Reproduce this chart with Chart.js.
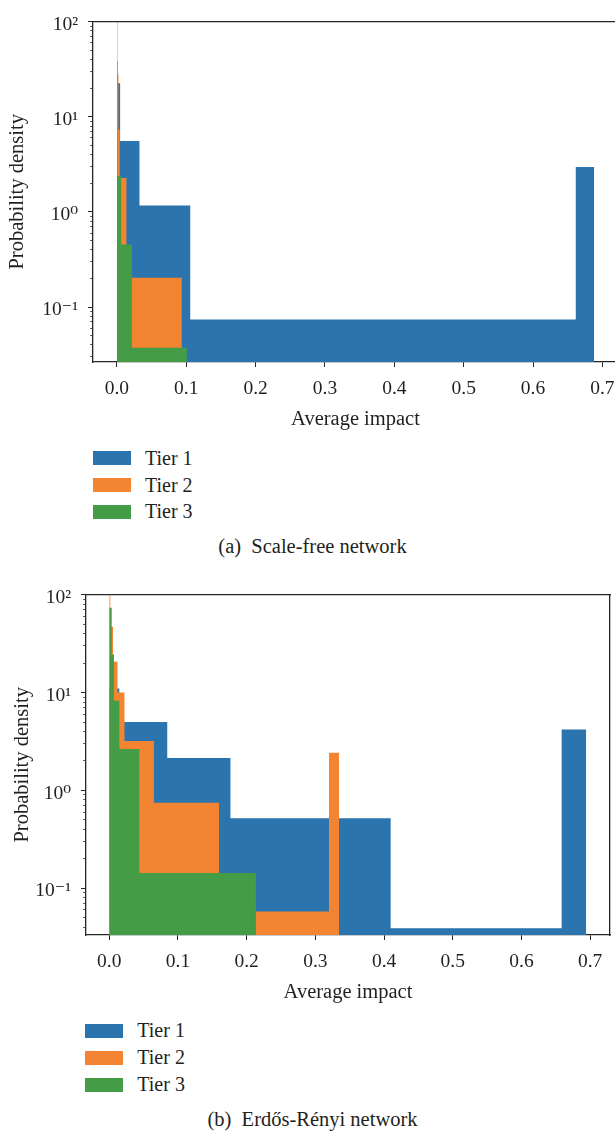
<!DOCTYPE html>
<html>
<head>
<meta charset="utf-8">
<script src="https://cdn.jsdelivr.net/npm/chart.js@4/dist/chart.umd.min.js"></script>
<style>
  html, body { margin: 0; padding: 0; background: #fff; width: 615px; height: 1134px; overflow: hidden; }
  .panel { position: absolute; left: 0; width: 615px; overflow: hidden; }
  .txt { font-family: 'Liberation Serif', 'DejaVu Serif', serif; color: #231f20; }
  .row { position: absolute; left: 0; height: 27px; width: 300px; }
  .row .box { position: absolute; top: 6.5px; width: 38px; height: 14px; }
  .row .lab { position: absolute; top: 0; line-height: 27px; font-size: 20px; white-space: nowrap; }
  .caption { position: absolute; font-size: 20.5px; line-height: 26px; white-space: pre; transform: translateX(-50%); }
</style>
</head>
<body>
<div class="panel" style="top:0;height:442px;"><canvas id="chartA" width="625" height="442"></canvas></div>
<div id="legendA"></div>
<div class="caption txt" style="left:312.5px;top:533px;">(a)  Scale-free network</div>
<div class="panel" style="top:573px;height:442px;"><canvas id="chartB" width="615" height="442"></canvas></div>
<div id="legendB"></div>
<div class="caption txt" style="left:312.5px;top:1106px;">(b)  Erdős-Rényi network</div>
<script>
// ---- series names and colours ----
const tierLabels = ['Tier 1', 'Tier 2', 'Tier 3'];
const tierColors = ['#2b74ad', '#f28432', '#449c46'];

// ---- tick values / labels ----
const xTickValues = [0.0, 0.1, 0.2, 0.3, 0.4, 0.5, 0.6, 0.7];
const xTickLabels = ['0.0', '0.1', '0.2', '0.3', '0.4', '0.5', '0.6', '0.7'];
const yMajorValues = [0.1, 1, 10, 100];
const yMajorLabels = ['10\u207B\u00B9', '10\u2070', '10\u00B9', '10\u00B2'];
const yMinorMultipliers = [2, 3, 4, 5, 6, 7, 8, 9];

// ---- (a) Scale-free network: bin edges and densities ----
const sfTier1Edges = [0, 0.0046, 0.0325, 0.1057, 0.6616, 0.6880];
const sfTier1Density = [22.5, 5.57, 1.17, 0.074, 2.97];
const sfTier2Edges = [0, 0.0012, 0.0022, 0.0040, 0.0137, 0.0936];
const sfTier2Density = [38.5, 28, 7.35, 2.27, 0.203];
const sfTier3Edges = [0, 0.0006, 0.0061, 0.0216, 0.1009];
const sfTier3Density = [150, 2.38, 0.454, 0.0373];

// ---- (b) Erdős-Rényi network: bin edges and densities ----
const erTier1Edges = [0, 0.0146, 0.0844, 0.1764, 0.4096, 0.6585, 0.6943];
const erTier1Density = [11, 5.0, 2.14, 0.52, 0.039, 4.2];
const erTier2Edges = [0, 0.0015, 0.0054, 0.0119, 0.0221, 0.065, 0.1597, 0.3198, 0.3344];
const erTier2Density = [150, 47, 20.6, 10, 3.2, 0.746, 0.058, 2.42];
const erTier3Edges = [0, 0.0035, 0.0068, 0.0146, 0.0437, 0.2135];
const erTier3Density = [73.5, 24.5, 8.24, 2.65, 0.143];

const FONT = "'Liberation Serif', 'DejaVu Serif', serif";
const TEXT = '#231f20';
const SPINE = '#262626';

function histPoints(edges, dens) {
  const pts = [];
  for (let i = 0; i < dens.length; i++) {
    pts.push({ x: edges[i], y: dens[i] });
    pts.push({ x: edges[i + 1], y: dens[i] });
  }
  return pts;
}

function buildDatasets(edgesList, densList) {
  return tierLabels.map((label, i) => ({
    label: label,
    data: histPoints(edgesList[i], densList[i]),
    backgroundColor: tierColors[i],
    borderColor: 'rgba(0,0,0,0)',
    borderWidth: 0,
    fill: 'start',
    pointRadius: 0,
    pointHoverRadius: 0,
    tension: 0,
    order: tierLabels.length - i,
    xAxisID: 'x',
    yAxisID: 'y'
  }));
}

function yTickList(min, max) {
  const out = [];
  for (let e = -3; e <= 3; e++) {
    for (const m of [1].concat(yMinorMultipliers)) {
      const v = m * Math.pow(10, e);
      if (v >= min * 0.999 && v <= max * 1.001) out.push({ value: v, major: m === 1 });
    }
  }
  return out;
}

function isMajorCtx(ctx) { return !!(ctx.tick && ctx.tick.major); }

function makeChart(canvasId, datasets, cfg) {
  return new Chart(document.getElementById(canvasId), {
    type: 'line',
    data: { datasets: datasets },
    options: {
      responsive: false,
      animation: false,
      devicePixelRatio: 1,
      events: [],
      layout: { padding: { left: 0, right: cfg.padRight, top: 14, bottom: 0 } },
      plugins: { legend: { display: false }, tooltip: { enabled: false } },
      scales: {
        x: {
          type: 'linear', position: 'bottom', min: cfg.xMin, max: cfg.xMax,
          afterBuildTicks: (s) => { s.ticks = xTickValues.map(v => ({ value: v })); },
          afterFit: (s) => { s.height = 80; },
          ticks: {
            autoSkip: false, maxRotation: 0, padding: 10,
            font: { family: FONT, size: 19.5 }, color: TEXT,
            callback: (v) => {
              const k = xTickValues.findIndex(t => Math.abs(t - v) < 1e-9);
              return k >= 0 ? xTickLabels[k] : '';
            }
          },
          grid: { drawOnChartArea: false, drawTicks: true, tickLength: 5, tickColor: SPINE, tickWidth: 1 },
          border: { display: true, color: SPINE, width: 1.3 },
          title: { display: true, text: 'Average impact', font: { family: FONT, size: 20.5 }, color: TEXT, padding: { top: 0, bottom: 9.7 } }
        },
        xTop: {
          type: 'linear', position: 'top', min: cfg.xMin, max: cfg.xMax,
          afterFit: (s) => { s.height = 0; },
          ticks: { display: false },
          grid: { drawOnChartArea: false, drawTicks: false },
          border: { display: true, color: SPINE, width: 1.3 }
        },
        y: {
          type: 'logarithmic', position: 'left', min: cfg.yMin, max: cfg.yMax,
          afterBuildTicks: (s) => { s.ticks = yTickList(cfg.yMin, cfg.yMax); },
          afterFit: (s) => { s.width = cfg.yWidth; },
          ticks: {
            autoSkip: false, padding: 10, labelOffset: 3,
            font: { family: FONT, size: 19.5 }, color: TEXT,
            callback: (v, i, ticks) => {
              if (!ticks[i].major) return '';
              const k = yMajorValues.findIndex(t => Math.abs(Math.log10(t) - Math.log10(v)) < 1e-6);
              return k >= 0 ? yMajorLabels[k] : '';
            }
          },
          grid: {
            drawOnChartArea: false, drawTicks: true, tickLength: 5, tickColor: SPINE,
            tickWidth: (ctx) => isMajorCtx(ctx) ? 1 : 0.8,
            tickBorderDash: (ctx) => isMajorCtx(ctx) ? [] : [0, 2.2, 2.8, 10]
          },
          border: { display: true, color: SPINE, width: 1.3 },
          title: { display: true, text: 'Probability density', font: { family: FONT, size: 20.5 }, color: TEXT, padding: { top: cfg.yTitlePad, bottom: 0 } }
        },
        yRight: {
          type: 'linear', position: 'right', min: 0, max: 1,
          afterFit: (s) => { s.width = 0; },
          ticks: { display: false },
          grid: { drawOnChartArea: false, drawTicks: false },
          border: { display: true, color: SPINE, width: 1.3 }
        }
      }
    }
  });
}

function buildLegend(chart, containerId, boxLeft, textLeft, rowCenters) {
  let items;
  try {
    items = Chart.defaults.plugins.legend.labels.generateLabels(chart)
      .slice().sort((a, b) => a.datasetIndex - b.datasetIndex)
      .map(it => ({ text: it.text, color: it.fillStyle }));
  } catch (e) {
    items = chart.data.datasets.map(ds => ({ text: ds.label, color: ds.backgroundColor }));
  }
  const host = document.getElementById(containerId);
  items.forEach((it, k) => {
    const row = document.createElement('div');
    row.className = 'row txt';
    row.style.top = (rowCenters[k] - 13.5) + 'px';
    const box = document.createElement('span');
    box.className = 'box';
    box.style.left = boxLeft + 'px';
    box.style.background = it.color;
    const lab = document.createElement('span');
    lab.className = 'lab';
    lab.style.left = textLeft + 'px';
    lab.textContent = it.text;
    row.appendChild(box);
    row.appendChild(lab);
    host.appendChild(row);
  });
}

const chartA = makeChart('chartA',
  buildDatasets([sfTier1Edges, sfTier2Edges, sfTier3Edges], [sfTier1Density, sfTier2Density, sfTier3Density]),
  { xMin: -0.0345, xMax: 0.7225, yMin: 0.0265, yMax: 100, yWidth: 93, padRight: 7, yTitlePad: 5.7 });

const chartB = makeChart('chartB',
  buildDatasets([erTier1Edges, erTier2Edges, erTier3Edges], [erTier1Density, erTier2Density, erTier3Density]),
  { xMin: -0.0339, xMax: 0.7289, yMin: 0.0333, yMax: 100, yWidth: 86, padRight: 5, yTitlePad: 10.7 });

buildLegend(chartA, 'legendA', 92.7, 145, [458, 485, 511.7]);
buildLegend(chartB, 'legendB', 85, 137.3, [1030.7, 1057.7, 1084.7]);
</script>
</body>
</html>
